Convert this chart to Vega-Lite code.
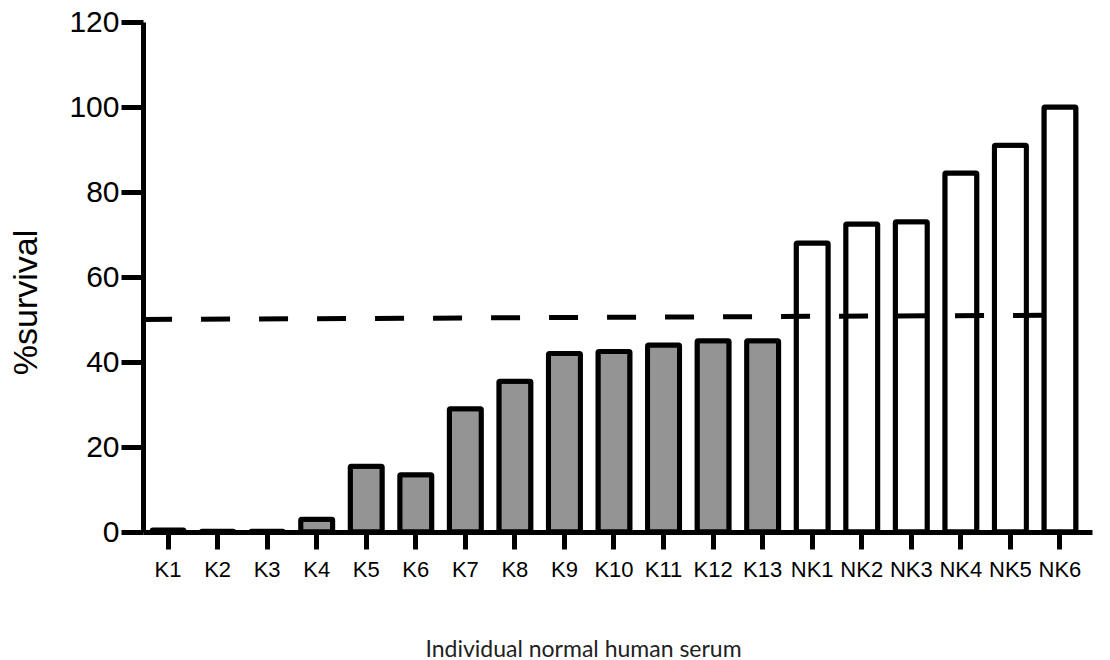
{
  "$schema": "https://vega.github.io/schema/vega-lite/v6.json",
  "autosize": "none",
  "width": 949,
  "height": 510,
  "padding": {"left": 143, "top": 22, "right": 18, "bottom": 128},
  "background": "white",
  "config": {"view": {"stroke": null}},
  "datasets": {
    "bars": [
      {"serum": "K1", "survival": 0.5, "group": "K"},
      {"serum": "K2", "survival": 0.2, "group": "K"},
      {"serum": "K3", "survival": 0.2, "group": "K"},
      {"serum": "K4", "survival": 3, "group": "K"},
      {"serum": "K5", "survival": 15.5, "group": "K"},
      {"serum": "K6", "survival": 13.5, "group": "K"},
      {"serum": "K7", "survival": 29, "group": "K"},
      {"serum": "K8", "survival": 35.5, "group": "K"},
      {"serum": "K9", "survival": 42, "group": "K"},
      {"serum": "K10", "survival": 42.5, "group": "K"},
      {"serum": "K11", "survival": 44, "group": "K"},
      {"serum": "K12", "survival": 45, "group": "K"},
      {"serum": "K13", "survival": 45, "group": "K"},
      {"serum": "NK1", "survival": 68, "group": "NK"},
      {"serum": "NK2", "survival": 72.5, "group": "NK"},
      {"serum": "NK3", "survival": 73, "group": "NK"},
      {"serum": "NK4", "survival": 84.5, "group": "NK"},
      {"serum": "NK5", "survival": 91, "group": "NK"},
      {"serum": "NK6", "survival": 100, "group": "NK"}
    ],
    "cutoff": [
      {"from": "K1", "to": "NK5", "y1": 50, "y2": 51}
    ]
  },
  "layer": [
    {
      "data": {"name": "bars"},
      "mark": {"type": "bar", "stroke": "black", "strokeWidth": 5, "strokeJoin": "round", "cornerRadius": 1},
      "encoding": {
        "x": {
          "field": "serum",
          "type": "nominal",
          "sort": null,
          "scale": {"paddingInner": 0.354, "paddingOuter": 0.253, "align": 0.36},
          "axis": {
            "title": "Individual normal human serum",
            "titleFont": "Lato",
            "titleFontSize": 23,
            "titleFontWeight": "normal",
            "titleColor": "#222",
            "titleX": 440,
            "titleY": 117,
            "titleBaseline": "middle",
            "labelFont": "Liberation Sans",
            "labelFontSize": 22,
            "labelColor": "black",
            "labelAngle": 0,
            "labelPadding": 10,
            "domainColor": "black",
            "domainWidth": 5,
            "tickColor": "black",
            "tickWidth": 5,
            "tickSize": 17,
            "grid": false
          }
        },
        "y": {
          "field": "survival",
          "type": "quantitative",
          "scale": {"domain": [0, 120], "nice": false},
          "axis": {
            "title": "%survival",
            "titleFont": "Liberation Sans",
            "titleFontSize": 34,
            "titleFontWeight": "normal",
            "titleColor": "black",
            "titleX": -100,
            "titleY": 280,
            "values": [0, 20, 40, 60, 80, 100, 120],
            "labelFont": "Liberation Sans",
            "labelFontSize": 30,
            "labelColor": "black",
            "labelPadding": 2,
            "domainColor": "black",
            "domainWidth": 5,
            "tickColor": "black",
            "tickWidth": 5,
            "tickSize": 22,
            "grid": false
          }
        },
        "fill": {
          "field": "group",
          "type": "nominal",
          "scale": {"domain": ["K", "NK"], "range": ["#949494", "#ffffff"]},
          "legend": null
        }
      }
    },
    {
      "data": {"name": "cutoff"},
      "mark": {"type": "rule", "stroke": "black", "strokeWidth": 5, "strokeDash": [29, 29]},
      "encoding": {
        "x": {"field": "from", "type": "nominal", "sort": null, "bandPosition": -0.28},
        "x2": {"field": "to", "bandPosition": 1.6},
        "y": {"field": "y1", "type": "quantitative"},
        "y2": {"field": "y2"}
      }
    }
  ]
}
